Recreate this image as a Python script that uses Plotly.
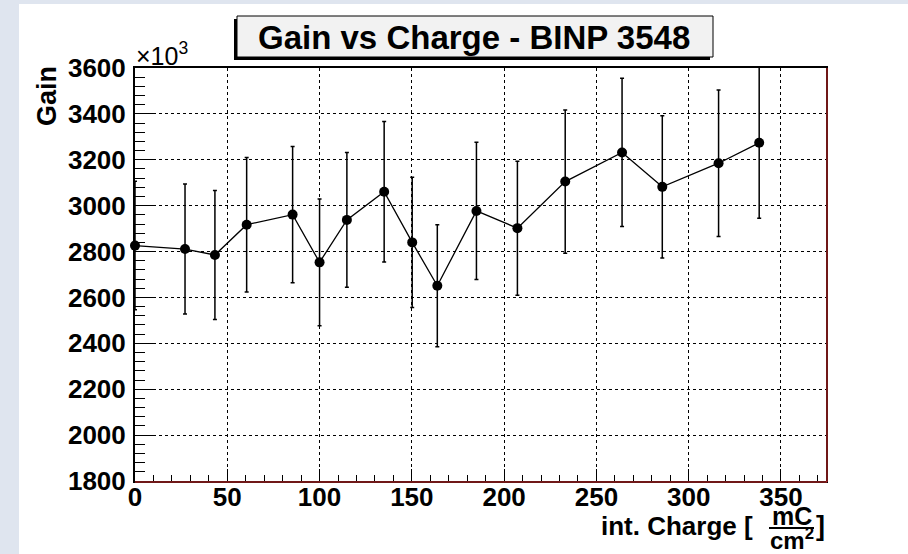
import plotly.graph_objects as go

# Integrated charge [mC/cm^2]
charge = [0, 27.1, 43.3, 60.5, 85.4, 100.0, 114.8, 135.0, 150.2, 163.8,
          185.0, 207.2, 233.1, 263.9, 285.7, 316.2, 338.2]
# Gain (in units of 10^3)
gain = [2826, 2811, 2785, 2917, 2961, 2753, 2938, 3061, 2840, 2651,
        2977, 2902, 3105, 3232, 3082, 3185, 3274]
gain_err = [280, 283, 281, 293, 297, 276, 294, 306, 284, 266,
            299, 292, 312, 323, 310, 319, 329]

W, H = 908, 554
L, R, T, B = 135, 826, 68, 481  # plot frame in pixels


def px(x):
    return (x - L) / (R - L)


def py(y):
    return (B - y) / (B - T)


FONT = "Liberation Sans, Arial, Helvetica, sans-serif"
BG = "#dfe5ef"

fig = go.Figure()
fig.add_trace(go.Scatter(
    x=charge, y=gain,
    mode="lines+markers",
    line=dict(color="black", width=1.3),
    marker=dict(color="black", size=10),
    error_y=dict(type="data", array=gain_err, visible=True,
                 color="black", thickness=1.5, width=2),
    cliponaxis=False,
    showlegend=False,
))

axis_common = dict(
    showline=True, linecolor="black", linewidth=2, mirror=True,
    ticks="inside", tickcolor="black", tickwidth=1,
    showgrid=True, gridcolor="black", gridwidth=1, griddash="dot",
    zeroline=False,
    tickfont=dict(family=FONT, size=26, color="black", weight="bold"),
)

fig.update_xaxes(
    range=[0, 374.4], tick0=0, dtick=50, ticklen=12,
    minor=dict(dtick=10, ticks="inside", ticklen=6, tickcolor="black",
               showgrid=False),
    ticklabelstandoff=-8,
    **axis_common,
)
fig.update_yaxes(
    range=[1800, 3600], tick0=1800, dtick=200, ticklen=20,
    minor=dict(dtick=40, ticks="inside", ticklen=10, tickcolor="black",
               showgrid=False),
    ticklabelstandoff=2,
    **axis_common,
)

shapes = [
    # white canvas inside the pale frame strips
    dict(type="rect", xref="paper", yref="paper",
         x0=px(19), x1=px(W + 5), y0=py(4), y1=py(H + 5),
         fillcolor="white", line=dict(width=0), layer="below"),
    # thin red edges on the right and bottom of the frame
    dict(type="line", xref="paper", yref="paper",
         x0=px(R + 1), x1=px(R + 1), y0=py(B + 1), y1=py(T),
         line=dict(color="#e03030", width=1)),
    dict(type="line", xref="paper", yref="paper",
         x0=px(L), x1=px(R + 1), y0=py(B + 1), y1=py(B + 1),
         line=dict(color="#e03030", width=1)),
    # title box shadow and box
    dict(type="rect", xref="paper", yref="paper",
         x0=px(234), x1=px(710), y0=py(19), y1=py(60),
         fillcolor="black", line=dict(width=0)),
    dict(type="rect", xref="paper", yref="paper",
         x0=px(237), x1=px(713), y0=py(16), y1=py(57),
         fillcolor="#f2f2f2", line=dict(color="black", width=1)),
    # fraction bar of the unit
    dict(type="line", xref="paper", yref="paper",
         x0=px(769), x1=px(814), y0=py(528), y1=py(528),
         line=dict(color="black", width=2)),
]

ann_font = dict(family=FONT, color="black")
annotations = [
    dict(text="Gain vs Charge - BINP 3548", x=px(474), y=py(37),
         font=dict(size=33, weight="bold", **ann_font)),
    dict(text="Gain", x=px(47), y=py(96), textangle=-90,
         font=dict(size=27, weight="bold", **ann_font)),
    dict(text="×10<sup>3</sup>", x=px(134), y=py(54), xanchor="left",
         font=dict(size=25, **ann_font)),
    dict(text="int. Charge [", x=px(755), y=py(526), xanchor="right",
         font=dict(size=26, weight="bold", **ann_font)),
    dict(text="mC", x=px(791.5), y=py(516), font=dict(size=25, weight="bold", **ann_font)),
    dict(text="cm<sup>2</sup>", x=px(791.5), y=py(539),
         font=dict(size=24, weight="bold", **ann_font)),
    dict(text="]", x=px(814), y=py(526), xanchor="left",
         font=dict(size=27, weight="bold", **ann_font)),
]
for a in annotations:
    a.update(xref="paper", yref="paper", showarrow=False)
    a.setdefault("xanchor", "center")
    a.setdefault("yanchor", "middle")

fig.update_layout(
    width=W, height=H,
    margin=dict(l=L, r=W - R, t=T, b=H - B, pad=0),
    paper_bgcolor=BG, plot_bgcolor="white",
    shapes=shapes, annotations=annotations,
    showlegend=False,
)

fig.write_html("out.html", config={"displayModeBar": False})
